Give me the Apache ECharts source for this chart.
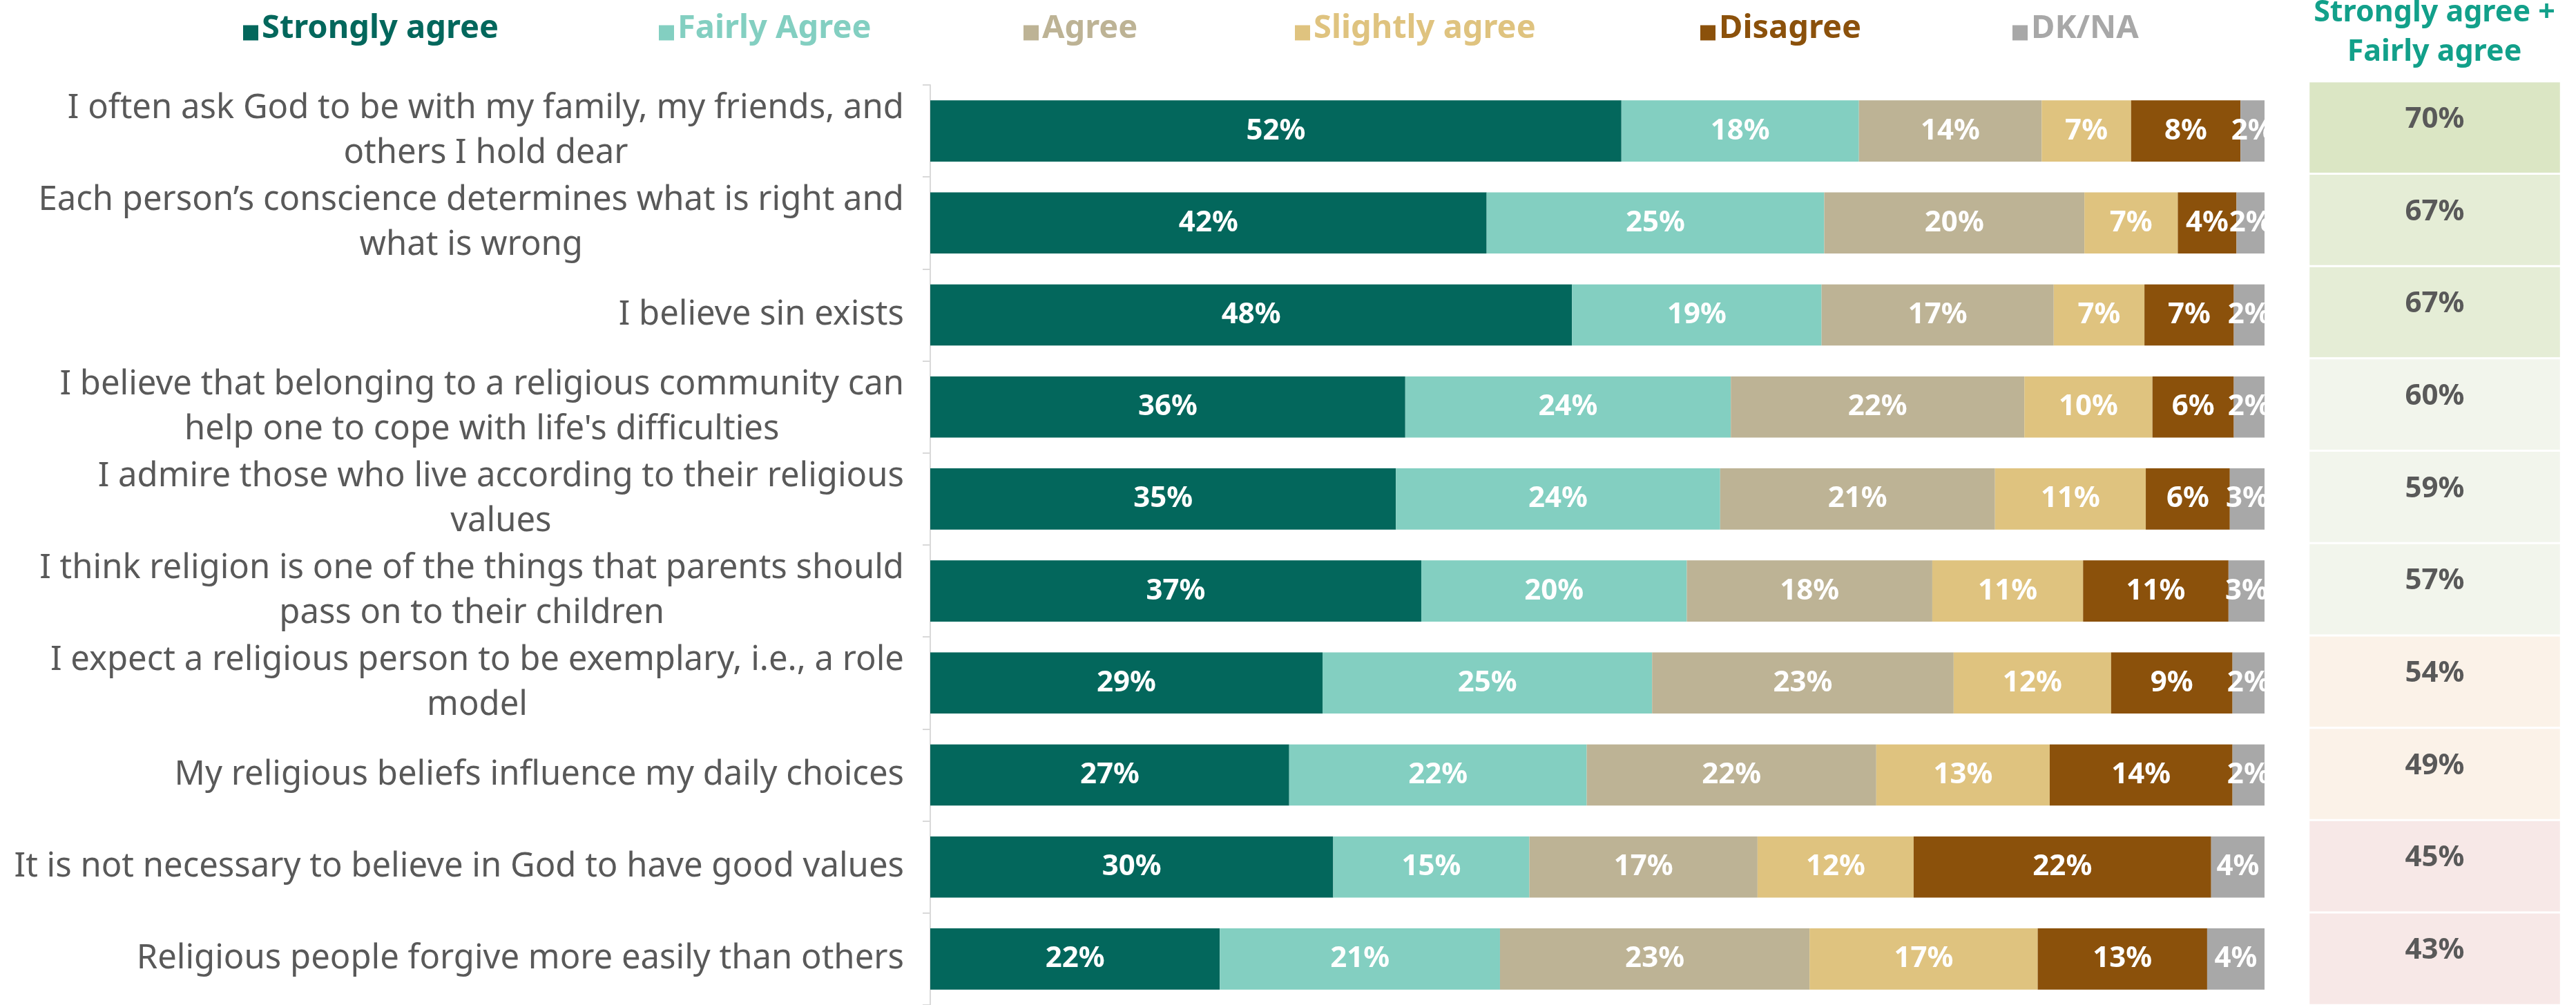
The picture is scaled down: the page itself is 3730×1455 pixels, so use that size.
<!DOCTYPE html>
<html>
<head>
<meta charset="utf-8">
<script src="https://cdn.jsdelivr.net/npm/echarts@6/dist/echarts.min.js"></script>
<style>
html,body{margin:0;padding:0;background:#fff;}
#chart{width:3730px;height:1455px;}
</style>
</head>
<body>
<div id="chart"></div>
<script>
// ---- data ----
const categories = [
  "I often ask God to be with my family, my friends, and\nothers I hold dear",
  "Each person\u2019s conscience determines what is right and\nwhat is wrong",
  "I believe sin exists",
  "I believe that belonging to a religious community can\nhelp one to cope with life's difficulties",
  "I admire those who live according to their religious\nvalues",
  "I think religion is one of the things that parents should\npass on to their children",
  "I expect a religious person to be exemplary, i.e., a role\nmodel",
  "My religious beliefs influence my daily choices",
  "It is not necessary to believe in God to have good values",
  "Religious people forgive more easily than others"
];
const seriesNames = ["Strongly agree", "Fairly Agree", "Agree", "Slightly agree", "Disagree", "DK/NA"];
const stronglyAgree = [51.8, 41.7, 48.1, 35.6, 34.9, 36.8, 29.4, 26.9, 30.2, 21.7];
const fairlyAgree   = [17.8, 25.3, 18.7, 24.4, 24.3, 19.9, 24.7, 22.3, 14.7, 21.0];
const agree         = [13.7, 19.5, 17.4, 22.0, 20.6, 18.4, 22.6, 21.7, 17.1, 23.2];
const slightlyAgree = [6.7, 7.0, 6.8, 9.6, 11.3, 11.3, 11.8, 13.0, 11.7, 17.1];
const disagree      = [8.2, 4.4, 6.7, 6.1, 6.3, 10.9, 9.1, 13.7, 22.3, 12.7];
const dkna          = [1.8, 2.1, 2.3, 2.3, 2.6, 2.7, 2.4, 2.4, 4.0, 4.3];
const netAgree      = [70, 67, 67, 60, 59, 57, 54, 49, 45, 43];
const netHeader = "Strongly agree +\nFairly agree";

// ---- style ----
const colors = ["#03675C", "#83CFC1", "#BDB395", "#DFC37F", "#8B510B", "#A8A8A8"];
const legendLeft = [352, 954, 1482, 1875, 2462, 2914];
const FONT = "'Noto Sans', 'Open Sans', sans-serif";
// square marker sitting low, like a text bullet
const legendIcon = 'path://M0,0L0.01,0L0.01,0.01L0,0.01ZM0,12L22,12L22,34L0,34Z';

const valueSets = [stronglyAgree, fairlyAgree, agree, slightlyAgree, disagree, dkna];

const barSeries = seriesNames.map((name, i) => ({
  name: name,
  type: 'bar',
  stack: 'total',
  xAxisIndex: 0,
  yAxisIndex: 0,
  barCategoryGap: '33.5%',
  itemStyle: { color: colors[i] },
  emphasis: { disabled: true },
  label: {
    show: true,
    position: 'inside',
    color: '#ffffff',
    fontFamily: FONT,
    fontWeight: 'bold',
    fontSize: 42,
    formatter: p => Math.round(p.value) + '%'
  },
  data: valueSets[i]
}));

const legends = seriesNames.map((name, i) => ({
  data: [name],
  left: legendLeft[i],
  top: 18,
  padding: 0,
  itemGap: 0,
  itemWidth: 22,
  itemHeight: 34,
  icon: legendIcon,
  selectedMode: false,
  itemStyle: { color: colors[i] },
  textStyle: {
    color: colors[i],
    fontFamily: FONT,
    fontWeight: 'bold',
    fontSize: 47,
    lineHeight: 34
  }
}));

const chart = echarts.init(document.getElementById('chart'), null, { renderer: 'canvas' });
chart.setOption({
  backgroundColor: '#ffffff',
  animation: false,
  legend: legends,
  graphic: [{
    type: 'text',
    x: 3525,
    y: 47,
    style: {
      text: netHeader,
      fill: '#12A08A',
      fontFamily: FONT,
      fontWeight: 'bold',
      fontSize: 43,
      lineHeight: 57,
      align: 'center',
      verticalAlign: 'middle'
    }
  }],
  grid: [
    { left: 1347, right: 451, top: 123, bottom: -8, containLabel: false },
    { left: 3343, right: 22, top: 118, bottom: -6, containLabel: false }
  ],
  xAxis: [
    { type: 'value', gridIndex: 0, min: 0, max: 100, show: false },
    { type: 'category', gridIndex: 1, data: ['net'], show: false }
  ],
  yAxis: [
    {
      type: 'category',
      gridIndex: 0,
      inverse: true,
      data: categories,
      axisLine: { show: true, lineStyle: { color: '#D9D9D9', width: 2 } },
      axisTick: { show: true, length: 11, lineStyle: { color: '#D9D9D9', width: 2 } },
      splitLine: { show: false },
      axisLabel: {
        margin: 38,
        align: 'right',
        formatter: v => v.split('\n').map(l => '{c|' + l + '}').join('\n'),
        rich: {
          c: {
            fontFamily: FONT,
            fontSize: 49,
            lineHeight: 65,
            color: '#595959',
            align: 'center'
          }
        }
      }
    },
    { type: 'category', gridIndex: 1, inverse: true, data: categories, show: false }
  ],
  visualMap: {
    show: false,
    type: 'piecewise',
    seriesIndex: 6,
    dimension: 2,
    pieces: [
      { gte: 69, color: '#DBE6C4' },
      { gte: 65, lt: 69, color: '#E5EDD6' },
      { gte: 55, lt: 65, color: '#F2F5EC' },
      { gte: 48, lt: 55, color: '#FBF2E8' },
      { lt: 48, color: '#F7E8E7' }
    ]
  },
  series: barSeries.concat([{
    type: 'heatmap',
    name: 'net',
    xAxisIndex: 1,
    yAxisIndex: 1,
    data: netAgree.map((v, i) => [0, i, v]),
    itemStyle: { borderColor: '#ffffff', borderWidth: 3 },
    emphasis: { disabled: true },
    label: {
      show: true,
      color: '#595959',
      fontFamily: FONT,
      fontWeight: 'bold',
      fontSize: 42,
      offset: [0, -12],
      formatter: p => p.value[2] + '%'
    }
  }])
});
</script>
</body>
</html>
